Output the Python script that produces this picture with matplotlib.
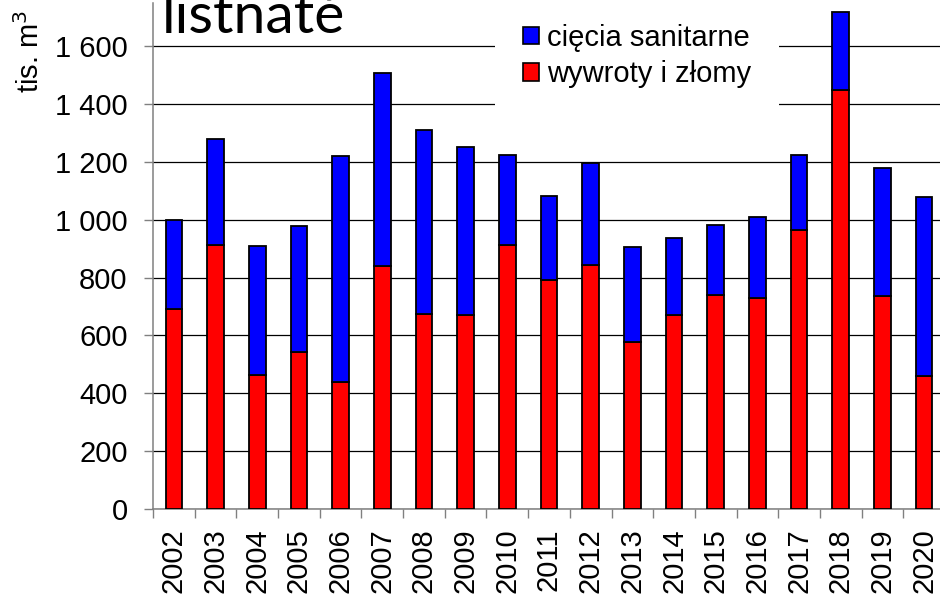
import matplotlib
matplotlib.use("Agg")
import matplotlib.pyplot as plt
from matplotlib.patches import Patch
import numpy as np

plt.rcParams['font.family'] = ['Liberation Sans', 'DejaVu Sans']

years = ["2002", "2003", "2004", "2005", "2006", "2007", "2008", "2009", "2010", "2011",
         "2012", "2013", "2014", "2015", "2016", "2017", "2018", "2019", "2020"]
wywroty = [690, 913, 463, 541, 438, 839, 675, 671, 914, 790,
           845, 577, 672, 738, 728, 965, 1449, 735, 458]
sanitarne = [310, 367, 445, 436, 783, 668, 635, 579, 309, 291,
             352, 328, 265, 245, 283, 260, 270, 443, 620]
yticks = [0, 200, 400, 600, 800, 1000, 1200, 1400, 1600]
yticklabels = ["0", "200", "400", "600", "800", "1 000", "1 200", "1 400", "1 600"]
labels = ["cięcia sanitarne", "wywroty i złomy"]
title = "listnaté"

W, H = 940, 594
fig = plt.figure(figsize=(W / 100, H / 100), dpi=100)
ax = fig.add_axes([153 / W, (H - 508.7) / H, 792 / W, 505.7 / H])

x = np.arange(len(years))
ax.bar(x, wywroty, width=0.4, color='#FF0000', edgecolor='black', linewidth=1.3, zorder=3)
ax.bar(x, sanitarne, width=0.4, bottom=wywroty, color='#0000FF', edgecolor='black', linewidth=1.3, zorder=3)

ax.set_xlim(-0.5, len(years) - 0.5)
ax.set_ylim(0, 1750)
ax.set_yticks(yticks)
ax.set_yticklabels(yticklabels, fontsize=21)
ax.set_xticks(x)
ax.set_xticklabels(years, rotation=90, fontsize=21)
ax.set_xticks(np.arange(len(years) + 1) - 0.5, minor=True)
ax.tick_params(axis='x', which='major', length=0, pad=14)
ax.tick_params(axis='x', which='minor', length=6.5, width=1, color='#808080')
ax.tick_params(axis='y', which='major', length=6.2, width=1, color='#808080', pad=12)

ax.yaxis.grid(True, color='black', linewidth=0.9, zorder=0)
ax.set_axisbelow(True)
for s in ['top', 'right']:
    ax.spines[s].set_visible(False)
for s in ['left', 'bottom']:
    ax.spines[s].set_color('#808080')
    ax.spines[s].set_linewidth(1.1)

handles = [Patch(facecolor='#0000FF', edgecolor='black', linewidth=1.2),
           Patch(facecolor='#FF0000', edgecolor='black', linewidth=1.2)]
leg = fig.legend(handles, labels, loc='upper left', bbox_to_anchor=(495 / W, (H + 4) / H),
                 fontsize=21, frameon=True, fancybox=False, borderaxespad=0,
                 handlelength=0.55, handleheight=0.55, handletextpad=0.28,
                 labelspacing=0.3, borderpad=0.95)
leg.get_frame().set_facecolor('white')
leg.get_frame().set_edgecolor('none')
leg.get_frame().set_alpha(1)

fig.text(30 / W, (H - 51.5) / H, "tis. m$^3$", rotation=90, ha='center', va='center', fontsize=21)
fig.text(162 / W, (H - 33) / H, title, family=['Lato', 'DejaVu Sans'], fontsize=41,
         ha='left', va='baseline')

fig.savefig("out.png", dpi=100)
